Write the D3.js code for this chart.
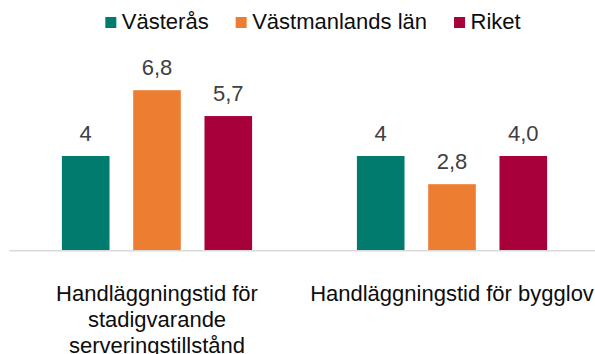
<!DOCTYPE html>
<html>
<head>
<meta charset="utf-8">
<script src="https://cdn.jsdelivr.net/npm/d3@7"></script>
<style>
  html, body { margin: 0; padding: 0; background: #fff; }
  svg { display: block; font-family: "Liberation Sans", Arial, sans-serif; }
</style>
</head>
<body>
<svg id="chart" width="595" height="354"></svg>
<script>
// Handläggningstid (veckor) per område
const categories = [
  "Handläggningstid för stadigvarande serveringstillstånd",
  "Handläggningstid för bygglov"
];
const seriesNames = ["Västerås", "Västmanlands län", "Riket"];
const vasteras = [4, 4];
const vastmanland = [6.8, 2.8];
const riket = [5.7, 4.0];
const valueLabels = [["4", "4"], ["6,8", "2,8"], ["5,7", "4,0"]];
const seriesColors = ["#007B6D", "#ED7D31", "#A8003B"];

const seriesValues = [vasteras, vastmanland, riket];

const svg = d3.select("#chart");
const baseY = 250;

const x0 = d3.scaleBand().domain(categories).range([9.5, 599.5]).padding(0);
const x1 = d3.scaleBand().domain(seriesNames)
  .range([52.4, x0.bandwidth() - 52.4])
  .paddingInner(0.332).paddingOuter(0);
const y = d3.scaleLinear().domain([0, 8]).range([baseY, baseY - 188]);

// baseline
svg.append("line")
  .attr("x1", x0.range()[0]).attr("x2", x0.range()[1])
  .attr("y1", baseY + 0.75).attr("y2", baseY + 0.75)
  .attr("stroke", "#d9d9d9").attr("stroke-width", 1.5);

// bars and value labels
const groups = svg.selectAll("g.cat")
  .data(categories)
  .join("g")
  .attr("class", "cat")
  .attr("transform", d => `translate(${x0(d)},0)`);

groups.each(function(cat, ci) {
  const g = d3.select(this);
  seriesNames.forEach((s, si) => {
    const v = seriesValues[si][ci];
    g.append("rect")
      .attr("x", x1(s))
      .attr("y", y(v))
      .attr("width", x1.bandwidth())
      .attr("height", y(0) - y(v))
      .attr("fill", seriesColors[si]);
    g.append("text")
      .attr("x", x1(s) + x1.bandwidth() / 2)
      .attr("y", y(v) - 15)
      .attr("text-anchor", "middle")
      .attr("font-size", 22)
      .attr("fill", "#404040")
      .text(valueLabels[si][ci]);
  });
});

// category labels, wrapped to the band width
const maxW = x0.bandwidth() - 6;
categories.forEach(cat => {
  const cx = x0(cat) + x0.bandwidth() / 2;
  const t = svg.append("text")
    .attr("x", cx).attr("y", 300.5)
    .attr("text-anchor", "middle")
    .attr("font-size", 22)
    .attr("fill", "#0d0d0d");
  const words = cat.split(" ");
  let line = [];
  let tspan = t.append("tspan").attr("x", cx).attr("dy", 0);
  words.forEach(w => {
    line.push(w);
    tspan.text(line.join(" "));
    if (tspan.node().getComputedTextLength() > maxW && line.length > 1) {
      line.pop();
      tspan.text(line.join(" "));
      line = [w];
      tspan = t.append("tspan").attr("x", cx).attr("dy", 26).text(w);
    }
  });
});

// legend
const legend = svg.append("g");
let lx = 0;
seriesNames.forEach((s, i) => {
  const item = legend.append("g").attr("transform", `translate(${lx},0)`);
  item.append("rect")
    .attr("x", 0).attr("y", 17)
    .attr("width", 11).attr("height", 11)
    .attr("fill", seriesColors[i]);
  const tx = item.append("text")
    .attr("x", 16.5).attr("y", 29)
    .attr("font-size", 22)
    .attr("fill", "#0d0d0d")
    .text(s);
  lx += 16.5 + tx.node().getComputedTextLength() + 27;
});
const legendW = lx - 27;
legend.attr("transform", `translate(${313 - legendW / 2},0)`);
</script>
</body>
</html>
